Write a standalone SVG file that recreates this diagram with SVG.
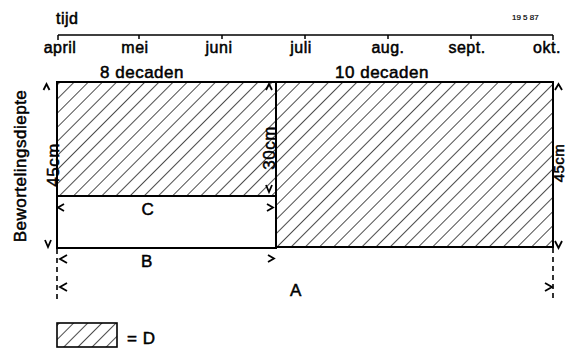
<svg xmlns="http://www.w3.org/2000/svg" width="566" height="356" viewBox="0 0 566 356">
<style>
text{font-family:"Liberation Sans",Arial,sans-serif;fill:#000;stroke:#000;stroke-width:0.5;font-size:16px;letter-spacing:0.5px}
.m{text-anchor:middle}
.big{font-size:17px}
.box{fill:url(#hatch);stroke:#000;stroke-width:2}
.wbox{fill:#fff;stroke:#000;stroke-width:2}
.ch{fill:none;stroke:#000;stroke-width:1.8;stroke-linejoin:miter}
.dash{stroke:#000;stroke-width:1.6;stroke-dasharray:5 4;fill:none}
.axis{stroke:#000;stroke-width:1.5;fill:none}
</style>
<defs>
<pattern id="hatch" patternUnits="userSpaceOnUse" width="10" height="10" patternTransform="rotate(45)">
<line x1="0" y1="-1" x2="0" y2="11" stroke="#000" stroke-width="1.4"/>
</pattern>
</defs>
<rect width="566" height="356" fill="#fff"/>

<g id="timeline">
<text x="56" y="24">tijd</text>
<text x="512" y="20" style="font-size:8px;stroke-width:0.2;letter-spacing:0">19 5 87</text>
<path class="axis" d="M58,35H553M58,35V40M139,35V39M222,35V39M305,35V39M388,35V39M471,35V39M553,35V40"/>
<text class="m" x="60" y="53">april</text>
<text class="m" x="135" y="53">mei</text>
<text class="m" x="219" y="53">juni</text>
<text class="m" x="301" y="53">juli</text>
<text class="m" x="388" y="53">aug.</text>
<text class="m" x="467" y="53">sept.</text>
<text class="m" x="547" y="53">okt.</text>
<text class="m big" x="142" y="78">8 decaden</text>
<text class="m big" x="382" y="78">10 decaden</text>
</g>

<g id="C-period">
<rect class="box" x="57" y="82" width="219" height="114"/>
<rect class="wbox" x="57" y="196" width="219" height="52"/>
<text class="m big" x="148" y="215">C</text>
</g>

<g id="A-period">
<rect class="box" x="276" y="82" width="277" height="165"/>
</g>

<g id="axis-label">
<text class="m big" transform="translate(26,166) rotate(-90)">Bewortelingsdiepte</text>
</g>

<g id="dimensions">
<text class="m big" transform="translate(59,165) rotate(-90)">45cm</text>
<text class="m big" transform="translate(275,148) rotate(-90)">30cm</text>
<text class="m" transform="translate(564,163) rotate(-90)" style="font-size:15px">45cm</text>
<text class="m big" x="147" y="267">B</text>
<text class="m big" x="296" y="296">A</text>
</g>

<g id="connectors">
<path class="dash" d="M57,249V299M553,248V299"/>
<polyline class="ch" points="43.5,90 46.5,84 49.5,90"/>
<polyline class="ch" points="45,240 48,247 51,240"/>
<polyline class="ch" points="266,90 269,84 272,90"/>
<polyline class="ch" points="266,185 269,192 272,185"/>
<polyline class="ch" points="555,90 558.5,84 562,90"/>
<polyline class="ch" points="555,241 558.5,248 562,241"/>
<polyline class="ch" points="64,204 58,207.5 64,211"/>
<polyline class="ch" points="267,204 273,207.5 267,211"/>
<polyline class="ch" points="67,255 60,259 67,263"/>
<polyline class="ch" points="268,255 274,258.5 268,262"/>
<polyline class="ch" points="67,283 60,287 67,291"/>
<polyline class="ch" points="545,283 552,287 545,291"/>
</g>

<g id="legend">
<rect class="box" x="57" y="323" width="60" height="24" style="stroke-width:1.6"/>
<text class="big" x="127" y="344">= D</text>
</g>
</svg>
